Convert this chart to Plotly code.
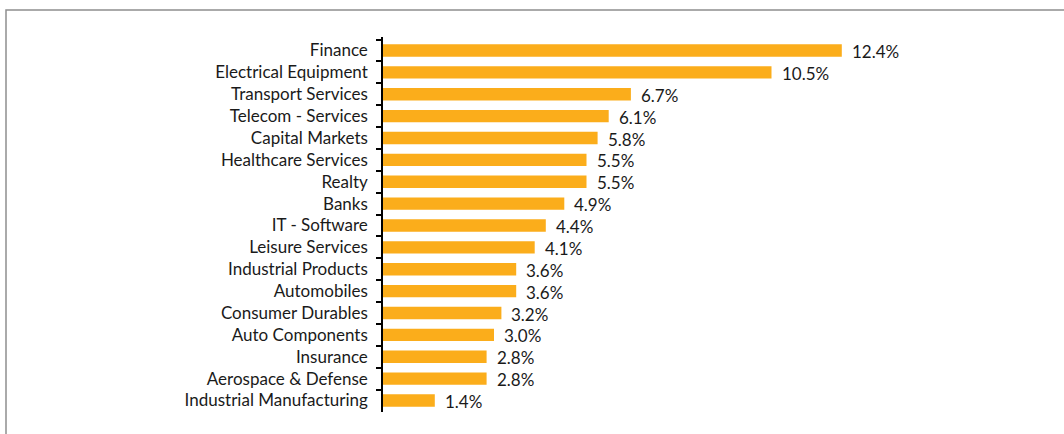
import plotly.graph_objects as go

sectors = [
    "Finance", "Electrical Equipment", "Transport Services", "Telecom - Services",
    "Capital Markets", "Healthcare Services", "Realty", "Banks", "IT - Software",
    "Leisure Services", "Industrial Products", "Automobiles", "Consumer Durables",
    "Auto Components", "Insurance", "Aerospace & Defense", "Industrial Manufacturing",
]
weights = [12.4, 10.5, 6.7, 6.1, 5.8, 5.5, 5.5, 4.9, 4.4, 4.1, 3.6, 3.6, 3.2, 3.0, 2.8, 2.8, 1.4]

W, H = 1064, 434
ML, MR, MT, MB = 383, 15, 37, 22
FONT = "Lato"
FS = 17

fig = go.Figure(go.Bar(
    x=weights, y=sectors, orientation="h",
    marker=dict(color="#FBAD1B", line=dict(width=0)),
    hoverinfo="skip",
))

# value labels just right of each bar
for s, v in zip(sectors, weights):
    fig.add_annotation(x=v, y=s, text=f"{v:.1f}%", showarrow=False,
                       xanchor="left", xshift=8, yshift=-1,
                       font=dict(family=FONT, size=FS, color="#1a1a1a"))

pw = W - ML - MR
ph = H - MT - MB
left = (6 - ML) / pw
top = 1 + (MT - 10) / ph
right = 1 + (MR + 10) / pw
bottom = -(MB + 10) / ph
fig.add_shape(type="path", xref="paper", yref="paper",
              path=f"M {right} {top} L {left} {top} L {left} {bottom}",
              line=dict(color="#8f8f8f", width=1.5))

fig.update_layout(
    width=W, height=H,
    margin=dict(l=ML, r=MR, t=MT, b=MB),
    paper_bgcolor="white", plot_bgcolor="white",
    bargap=0.43, showlegend=False,
    font=dict(family=FONT, size=FS, color="#1a1a1a"),
    xaxis=dict(range=[0, pw / 37.0], visible=False, fixedrange=True),
    yaxis=dict(autorange="reversed", showline=True, linecolor="black", linewidth=1.5,
               ticks="outside", tickson="boundaries", ticklen=5, tickcolor="black",
               tickwidth=1.5, showgrid=False, ticklabelstandoff=10,
               tickfont=dict(family=FONT, size=FS, color="#1a1a1a")),
)

fig.write_html("out.html")
